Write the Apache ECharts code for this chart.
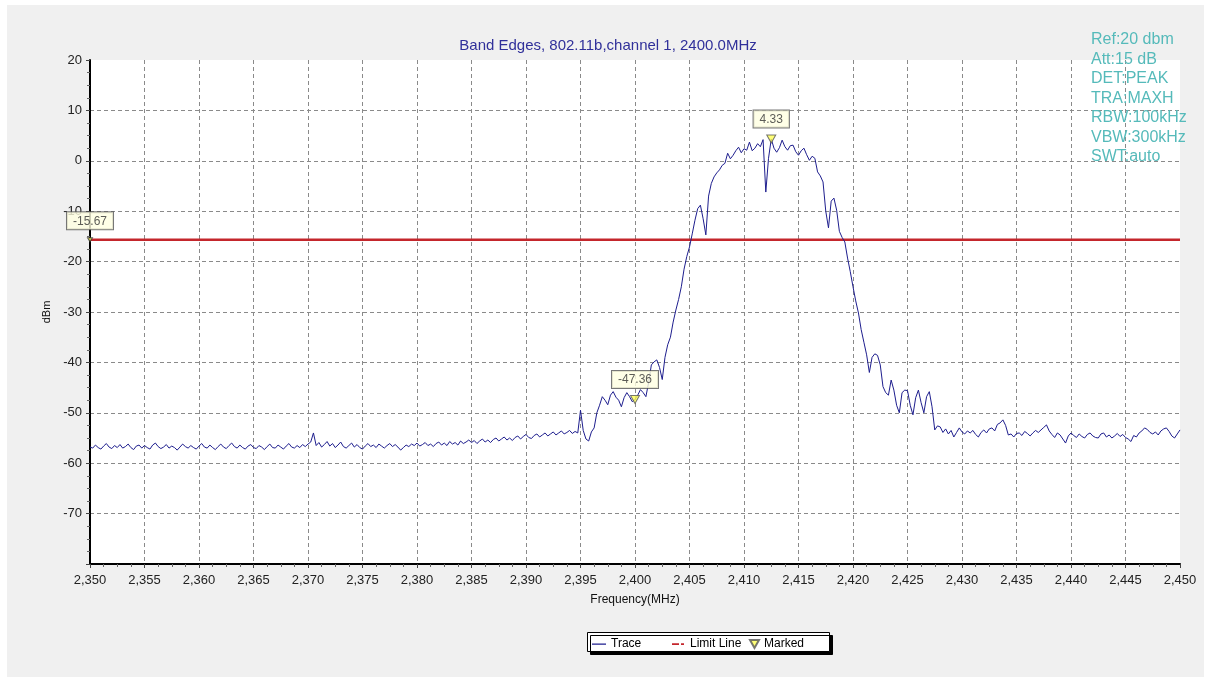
<!DOCTYPE html>
<html>
<head>
<meta charset="utf-8">
<script src="https://cdn.jsdelivr.net/npm/echarts@6/dist/echarts.min.js"></script>
<style>
html,body{margin:0;padding:0;background:#fff;}
#chart{width:1216px;height:679px;}
</style>
</head>
<body>
<div id="chart"></div>
<script>
// ---------- data ----------
const TITLE = 'Band Edges, 802.11b,channel 1, 2400.0MHz';
const INFO_LINES = ['Ref:20 dbm', 'Att:15 dB', 'DET:PEAK', 'TRA:MAXH', 'RBW:100kHz', 'VBW:300kHz', 'SWT:auto'];
const X_MIN = 2350, X_MAX = 2450, X_INTERVAL = 5;
const Y_MIN = -80, Y_MAX = 20, Y_INTERVAL = 10;
const START_FREQ = 2350;   // MHz, first sweep point
const STEP_FREQ = 0.25;    // MHz between sweep points

// measured trace levels (dBm), sweep points from 2350.00 MHz in 0.25 MHz steps
const floorLow = [ // 2350.00 - 2369.75
  -56.8,-57.0,-56.4,-56.9,-57.2,-56.6,-56.1,-56.8,-57.1,-56.5,
  -56.9,-56.3,-57.0,-56.7,-56.2,-56.9,-57.3,-56.6,-56.4,-57.0,
  -56.5,-56.9,-57.2,-56.4,-56.0,-56.7,-57.1,-56.8,-56.3,-57.0,
  -56.6,-56.9,-57.4,-56.8,-56.2,-56.7,-57.0,-56.5,-56.9,-57.2,
  -56.6,-56.1,-56.8,-57.0,-56.4,-56.9,-57.3,-56.7,-56.2,-56.8,
  -57.1,-56.5,-56.0,-56.7,-57.0,-56.4,-56.9,-57.2,-56.6,-56.3,
  -56.9,-57.1,-56.5,-56.8,-57.3,-56.7,-56.2,-56.9,-57.0,-56.4,
  -56.8,-57.2,-56.6,-56.1,-56.8,-57.0,-56.5,-56.9,-56.3,-56.7
];
const floorMid = [ // 2370.00 - 2384.75
  -56.2,-55.8,-54.0,-56.5,-55.9,-56.8,-56.3,-55.7,-56.6,-56.1,
  -56.9,-56.4,-55.8,-56.7,-57.0,-56.5,-56.0,-56.8,-56.3,-56.9,
  -57.2,-56.6,-56.1,-56.7,-56.4,-56.9,-56.2,-56.6,-57.0,-56.5,
  -56.1,-56.7,-56.3,-56.8,-57.4,-56.9,-56.4,-56.7,-56.2,-56.5,
  -56.0,-56.6,-56.3,-55.9,-56.5,-56.2,-56.7,-56.1,-55.8,-56.4,
  -56.0,-56.5,-55.7,-56.2,-55.9,-56.4,-55.6,-56.1,-55.8,-55.4
];
const floorRise = [ // 2385.00 - 2394.75
  -55.9,-55.5,-56.1,-55.6,-55.2,-55.8,-55.4,-55.9,-55.3,-55.0,
  -55.6,-55.2,-54.8,-55.4,-55.0,-55.5,-54.9,-54.6,-55.2,-54.7,
  -54.3,-54.9,-55.1,-54.5,-54.2,-54.8,-54.4,-54.0,-54.6,-54.2,
  -53.8,-54.4,-54.0,-53.6,-54.2,-53.9,-53.5,-54.1,-53.7,-54.0
];
const risingEdge = [ // 2395.00 - 2405.00
  -49.5,-53.5,-55.2,-55.6,-53.8,-53.0,-50.0,-48.5,-46.8,-47.5,
  -48.4,-46.5,-45.8,-46.9,-47.5,-48.8,-47.0,-46.0,-46.8,-47.8,
  -47.36,-46.5,-45.4,-46.0,-46.8,-44.0,-40.5,-39.9,-39.5,-41.0,
  -43.4,-39.0,-36.5,-35.0,-32.0,-29.6,-27.5,-25.0,-21.5,-19.0,
  -17.1
];
const channelTop = [ // 2405.25 - 2420.00
  -14.5,-11.8,-9.5,-8.8,-11.5,-14.7,-7.0,-4.5,-3.2,-2.4,
  -1.8,-0.9,-0.5,1.5,0.4,1.1,2.0,2.7,1.6,2.4,
  2.1,3.7,2.0,2.5,3.4,2.8,4.2,-6.2,0.5,4.33,
  2.5,1.7,2.6,4.1,2.8,2.1,3.0,3.1,1.8,1.1,
  2.0,2.5,1.2,0.1,0.9,0.5,-2.2,-3.0,-4.2,-10.0,
  -13.3,-8.0,-7.4,-9.8,-14.0,-15.2,-16.1,-19.3,-22.0,-25.0
];
const fallingEdge = [ // 2420.25 - 2430.00
  -27.8,-30.2,-33.5,-36.0,-38.5,-42.0,-39.0,-38.3,-38.6,-40.5,
  -44.8,-46.0,-46.5,-43.5,-45.5,-48.5,-50.0,-46.0,-45.5,-45.6,
  -48.5,-50.4,-47.0,-45.5,-48.0,-50.0,-46.8,-45.8,-48.8,-53.4,
  -52.6,-52.8,-53.9,-53.2,-54.2,-53.5,-54.8,-53.9,-53.0,-53.8
];
const floorHigh = [ // 2430.25 - 2450.00
  -54.2,-53.6,-54.0,-53.5,-54.3,-54.8,-53.9,-53.4,-54.0,-53.2,
  -53.0,-53.6,-52.3,-52.0,-51.4,-52.5,-54.4,-54.2,-54.8,-54.1,
  -54.0,-54.5,-53.7,-54.1,-54.6,-54.0,-53.5,-53.9,-53.4,-52.9,
  -52.4,-53.6,-54.3,-54.9,-54.0,-54.4,-55.2,-56.0,-54.6,-54.0,
  -54.5,-54.9,-54.2,-54.7,-55.0,-54.3,-54.0,-54.6,-54.9,-55.0,
  -54.2,-54.0,-54.8,-54.4,-55.0,-54.6,-54.1,-54.7,-54.3,-54.9,
  -55.2,-55.7,-54.5,-54.8,-54.0,-53.6,-53.0,-53.3,-53.9,-54.2,
  -53.8,-54.4,-53.6,-53.2,-53.0,-53.7,-54.6,-55.0,-54.2,-53.4
];

const LIMIT_LEVEL = -15.67;
const markerFreqs = [2400.0, 2412.5];
const markerLevels = [-47.36, 4.33];

// ---------- build ----------
const levels = [].concat(floorLow, floorMid, floorRise, risingEdge, channelTop, fallingEdge, floorHigh);
const traceData = levels.map((v, i) => [START_FREQ + i * STEP_FREQ, v]);
const limitData = [[X_MIN, LIMIT_LEVEL], [X_MAX, LIMIT_LEVEL]];
const markerData = markerFreqs.map((f, i) => [f, markerLevels[i]]);

const FONT = 'Arial, "Liberation Sans", sans-serif';
const labelBox = {
  show: true, position: 'top', distance: 7,
  formatter: p => p.value[1].toFixed(2),
  backgroundColor: '#ffffe1', borderColor: '#555', borderWidth: 1,
  padding: [3, 6, 2, 6], color: '#333', fontSize: 12, fontFamily: FONT
};

const chart = echarts.init(document.getElementById('chart'), null, {renderer: 'canvas'});
const option = {
  animation: false,
  backgroundColor: '#f0f0f0',
  textStyle: {fontFamily: FONT},
  title: [
    {text: TITLE, left: 'center', top: 33,
     textStyle: {fontSize: 15, fontWeight: 'normal', color: '#30309a', fontFamily: FONT}},
    {text: INFO_LINES.join('\n'), left: 1091, top: 30, padding: 0,
     textStyle: {fontSize: 16, fontWeight: 'normal', color: '#55baba', lineHeight: 19.5, fontFamily: FONT}}
  ],
  graphic: {elements: [
    {type: 'rect', shape: {x: 0, y: 0, width: 1216, height: 5}, style: {fill: '#fff'}, silent: true},
    {type: 'rect', shape: {x: 0, y: 0, width: 7, height: 679}, style: {fill: '#fff'}, silent: true},
    {type: 'rect', shape: {x: 1204, y: 0, width: 12, height: 679}, style: {fill: '#fff'}, silent: true},
    {type: 'rect', shape: {x: 0, y: 677, width: 1216, height: 2}, style: {fill: '#fff'}, silent: true},
    {type: 'rect', shape: {x: 587.5, y: 632.5, width: 242, height: 19},
     style: {fill: '#fff', stroke: '#000', lineWidth: 1, shadowColor: '#000', shadowOffsetX: 3, shadowOffsetY: 3, shadowBlur: 0},
     silent: true, z: 1}
  ]},
  legend: [
    {data: [{name: 'Trace', icon: 'path://M0,0h0.01v0.01h-0.01zM0,3.5h14v1.3h-14zM13.99,7.99h0.01v0.01h-0.01z'}],
     left: 592, top: 638, itemWidth: 14, itemHeight: 8, itemGap: 0, padding: 0, z: 5,
     itemStyle: {borderWidth: 0},
     textStyle: {fontSize: 12, color: '#000', fontFamily: FONT}},
    {data: [{name: 'Limit Line', icon: 'path://M0,0h0.01v0.01h-0.01zM1,3.2h7v1.8h-7zM10,3.2h3v1.8h-3zM13.99,7.99h0.01v0.01h-0.01z'}],
     left: 671, top: 638, itemWidth: 14, itemHeight: 8, itemGap: 0, padding: 0, z: 5,
     itemStyle: {borderWidth: 0},
     textStyle: {fontSize: 12, color: '#000', fontFamily: FONT}},
    {data: [{name: 'Marked', icon: 'path://M0,0L9,0L4.5,8Z'}],
     left: 749, top: 638, itemWidth: 9, itemHeight: 8, itemGap: 0, padding: 0, z: 5,
     textStyle: {fontSize: 12, color: '#000', fontFamily: FONT}}
  ],
  grid: {left: 90, top: 60, right: 36, bottom: 115, show: true, backgroundColor: '#fff', borderWidth: 0},
  xAxis: {
    type: 'value', min: X_MIN, max: X_MAX, interval: X_INTERVAL,
    name: 'Frequency(MHz)', nameLocation: 'middle', nameGap: 30,
    nameTextStyle: {fontSize: 12, color: '#111', fontFamily: FONT},
    axisLine: {show: true, onZero: false, lineStyle: {color: '#000', width: 2}},
    axisTick: {show: true, length: 4, lineStyle: {color: '#444'}},
    minorTick: {show: true, splitNumber: 4, length: 3, lineStyle: {color: '#666'}},
    axisLabel: {margin: 10, fontSize: 13, color: '#222', fontFamily: FONT,
      formatter: v => v.toLocaleString('en-US')},
    splitLine: {show: true, showMinLine: false, showMaxLine: false,
      lineStyle: {color: '#8a8a8a', type: [4, 3], width: 1}}
  },
  yAxis: {
    type: 'value', min: Y_MIN, max: Y_MAX, interval: Y_INTERVAL,
    name: 'dBm', nameLocation: 'middle', nameGap: 37, nameRotate: 90,
    nameTextStyle: {fontSize: 11, color: '#111', fontFamily: FONT},
    axisLine: {show: true, onZero: false, lineStyle: {color: '#000', width: 2}},
    axisTick: {show: true, length: 4, lineStyle: {color: '#444'}},
    minorTick: {show: true, splitNumber: 4, length: 3, lineStyle: {color: '#666'}},
    axisLabel: {margin: 8, fontSize: 13, color: '#222', showMinLabel: false, fontFamily: FONT},
    splitLine: {show: true, showMinLine: false, showMaxLine: false,
      lineStyle: {color: '#8a8a8a', type: [4, 3], width: 1}}
  },
  series: [
    {name: 'Trace', type: 'line', data: traceData, showSymbol: false, symbol: 'none',
     color: '#1e1e8e', lineStyle: {color: '#1e1e8e', width: 1}, z: 3},
    {name: 'Limit Line', type: 'line', data: limitData, showSymbol: false, symbol: 'none',
     color: '#c4262c', lineStyle: {color: '#c4262c', width: 2.5}, z: 2},
    {name: 'Limit Value', type: 'scatter', data: [[X_MIN, LIMIT_LEVEL]], clip: false,
     symbol: 'triangle', symbolRotate: 180, symbolSize: [5, 4],
     itemStyle: {color: '#ffff66', borderColor: '#333', borderWidth: 1},
     label: Object.assign({}, labelBox, {distance: 8}), z: 6},
    {name: 'Marked', type: 'scatter', data: markerData, clip: false,
     symbol: 'triangle', symbolRotate: 180, symbolSize: [9, 8],
     color: '#ffff55',
     itemStyle: {color: '#ffff55', borderColor: '#555', borderWidth: 1},
     label: labelBox, z: 6}
  ]
};
chart.setOption(option);
</script>
</body>
</html>
